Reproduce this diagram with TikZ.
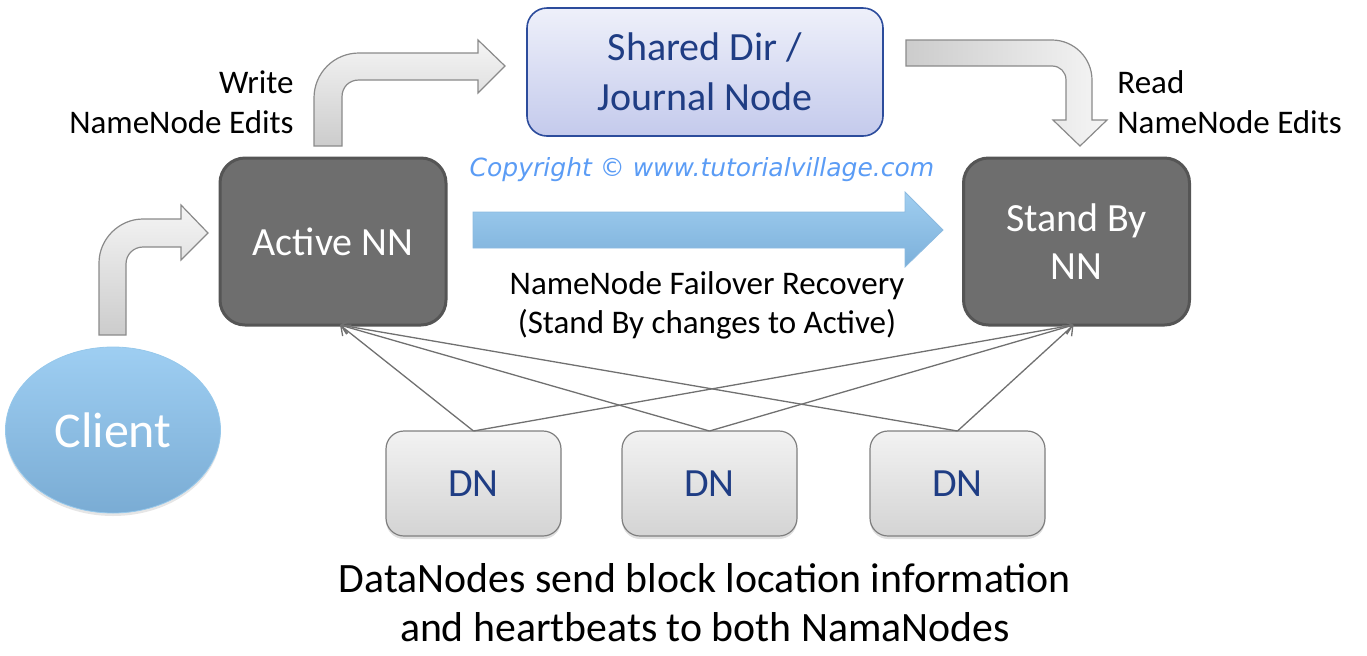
\documentclass[tikz,border=0pt]{standalone}
\usepackage{fontspec}
\setmainfont{Carlito}
\newfontfamily\copyfont{DejaVu Sans}
\usetikzlibrary{shapes.geometric,arrows.meta,shadows}

\definecolor{nngray}{HTML}{6E6E6E}
\definecolor{nnedge}{HTML}{555555}
\definecolor{dnedge}{HTML}{7F7F7F}
\definecolor{navy}{HTML}{1F3D84}
\definecolor{jnedge}{HTML}{2C4C9C}
\definecolor{jntop}{HTML}{EEF0FA}
\definecolor{jnbot}{HTML}{C4CAEC}
\definecolor{cblue}{HTML}{5B9CF5}
\definecolor{linegray}{HTML}{707070}
\definecolor{arrowedge}{HTML}{8A8A8A}

\begin{document}
\begin{tikzpicture}[x=0.5pt,y=-0.5pt,
  nnbox/.style={draw=nnedge, line width=1.5pt, fill=nngray, rounded corners=12.5pt,
    minimum width=113pt, minimum height=83.5pt, text=white, align=center,
    font=\fontsize{20}{24}\selectfont, inner sep=0pt, outer sep=0pt},
  dnbox/.style={draw=dnedge, line width=0.6pt, top color=black!5, bottom color=black!17,
    rounded corners=9pt, minimum width=87.5pt, minimum height=52.5pt, text=navy,
    font=\fontsize{20}{24}\selectfont, inner sep=0pt, outer sep=0pt,
    drop shadow={opacity=0.25, shadow xshift=0pt, shadow yshift=-1.5pt}},
  label/.style={font=\fontsize{16.5}{20}\selectfont, inner sep=0pt},
  bentarrow/.style={draw=arrowedge, line width=0.6pt},
  heartbeat/.style={draw=linegray, line width=0.65pt, -{Straight Barb[length=4pt,width=7pt]}}
]
\useasboundingbox (0,0) rectangle (1367,655);

% journal node and name nodes
\node[draw=jnedge, line width=0.8pt, top color=jntop, bottom color=jnbot,
  rounded corners=10pt, minimum width=178pt, minimum height=64pt, text=navy, align=center,
  font=\fontsize{20}{25}\selectfont, inner sep=0pt] (jn) at (705,72) {Shared Dir /\\Journal Node};
\node[nnbox] (act) at (333,241.5) {Active NN};
\node[nnbox] (sby) at (1076.5,241.5) {Stand By\\NN};

% client
\node[ellipse, draw={rgb,255:red,150;green,200;blue,235}, line width=0.4pt,
  top color={rgb,255:red,158;green,206;blue,242},
  bottom color={rgb,255:red,122;green,172;blue,212}, minimum width=107.5pt, minimum height=83pt,
  text=white, font=\fontsize{25}{30}\selectfont, inner sep=0pt,
  drop shadow={opacity=0.2, shadow xshift=0pt, shadow yshift=-1.5pt}] (cl) at (113,430) {Client};

% data nodes
\node[dnbox] (dn1) at (473.5,483.5) {DN};
\node[dnbox] (dn2) at (709.5,483.5) {DN};
\node[dnbox] (dn3) at (957.5,483.5) {DN};

% bent arrows
\draw[bentarrow, top color=black!4, bottom color=black!20]
  (314,146) -- (314,98) .. controls (314,73) and (334,53) .. (359,53) -- (478,53) -- (478,40)
  -- (505,66) -- (478,93) -- (478,80) -- (359,80) .. controls (349,80) and (342,87) .. (342,97)
  -- (342,146) -- cycle;
\draw[bentarrow, top color=black!4, bottom color=black!20]
  (99,335) -- (99,263) .. controls (99,239) and (119,219) .. (143,219) -- (181,219) -- (181,205)
  -- (208,233) -- (181,260) -- (181,247) -- (143,247) .. controls (134,247) and (126,254) .. (126,264)
  -- (126,335) -- cycle;
\draw[bentarrow, left color=black!20, right color=black!4]
  (906,40) -- (1052,40) .. controls (1074,40) and (1092,58) .. (1092,80) -- (1092,120) -- (1107,120)
  -- (1080,146) -- (1053,120) -- (1066,120) -- (1066,80) .. controls (1066,72) and (1060,66) .. (1052,66)
  -- (906,66) -- cycle;

% failover arrow
\draw[draw={rgb,255:red,140;green,186;blue,224}, line width=0.4pt,
  top color={rgb,255:red,160;green,206;blue,240}, bottom color={rgb,255:red,124;green,176;blue,218}]
  (473,212) -- (905,212) -- (905,192) -- (943,230) -- (905,267) -- (905,248) -- (473,248) -- cycle;

% texts
\node[label, anchor=east, align=right] (wr) at (294,102) {Write\\NameNode Edits};
\node[label, anchor=west, align=left] (rd) at (1117,102) {Read\\NameNode Edits};
\node[text=cblue, font=\copyfont\itshape\fontsize{12.5}{15}\selectfont, inner sep=0pt] (cp)
  at (702,170) {Copyright © www.tutorialvillage.com};
\node[align=center, font=\fontsize{16.5}{19.5}\selectfont, inner sep=0pt] (fo) at (707,305)
  {NameNode Failover Recovery\\(Stand By changes to Active)};
\node[align=center, font=\fontsize{20.9}{24.5}\selectfont, inner sep=0pt] (dt) at (705,603)
  {DataNodes send block location information\\and heartbeats to both NamaNodes};

% heartbeats
\coordinate (actin) at ([xshift=3.5pt]act.south);
\coordinate (sbyin) at ([xshift=-1.5pt]sby.south);
\foreach \d in {dn1,dn2,dn3} {
  \draw[heartbeat] (\d.north) -- (actin);
  \draw[heartbeat] (\d.north) -- (sbyin);
}
\end{tikzpicture}
\end{document}
